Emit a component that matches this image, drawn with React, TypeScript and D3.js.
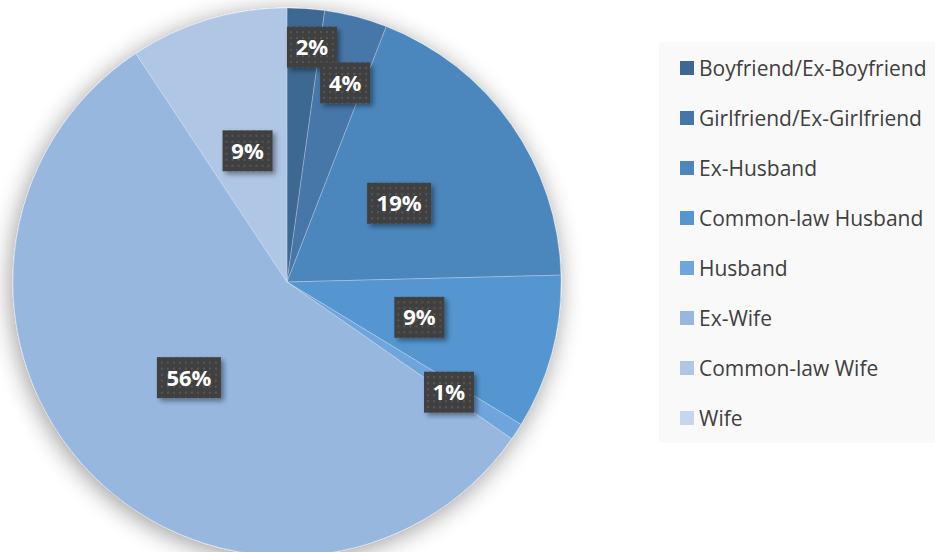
import React, { useEffect } from "react";
import * as d3 from "d3";

const categories = [
  "Boyfriend/Ex-Boyfriend",
  "Girlfriend/Ex-Girlfriend",
  "Ex-Husband",
  "Common-law Husband",
  "Husband",
  "Ex-Wife",
  "Common-law Wife",
  "Wife",
];
const values = [2.2, 3.7, 18.7, 9.1, 1.0, 56.0, 9.3, 0];
const labels = ["2%", "4%", "19%", "9%", "1%", "56%", "9%", ""];
const colors = [
  "#3e6792",
  "#4676a8",
  "#4c86bd",
  "#5596d1",
  "#6ea5dc",
  "#97b7df",
  "#afc6e5",
  "#c6d6ee",
];
// label placement (best-fit): radius as fraction of pie radius, angular nudge in degrees
const labelRadiusFactor = [0.862, 0.757, 0.5, 0.5, 0.715, 0.5, 0.5, 0.5];
const labelAngleNudge = [2.1, 1.7, 0, 0, 1.1, 0, 0, 0];

const W = 935;
const H = 552;
const cx = 287;
const cy = 282;
const R = 274;

export default function App() {
  useEffect(() => {
    document.body.style.margin = "0";
  }, []);

  const pie = d3
    .pie<number>()
    .sort(null)
    .value((d) => d)
    .startAngle(0)
    .endAngle(2 * Math.PI);
  const arcs = pie(values);
  const arc = d3.arc<d3.PieArcDatum<number>>().innerRadius(0).outerRadius(R);

  const legendY = d3
    .scalePoint<string>()
    .domain(categories)
    .range([68, 418]);

  return (
    <svg width={W} height={H} style={{ display: "block", fontFamily: "'Open Sans', sans-serif" }}>
      <defs>
        <filter id="pieShadow" x="-20%" y="-20%" width="140%" height="140%">
          <feGaussianBlur in="SourceAlpha" stdDeviation="12" />
          <feOffset dx="-2" dy="4" result="b" />
          <feComponentTransfer>
            <feFuncA type="linear" slope="0.4" />
          </feComponentTransfer>
          <feMerge>
            <feMergeNode />
            <feMergeNode in="SourceGraphic" />
          </feMerge>
        </filter>
        <filter id="boxShadow" x="-30%" y="-30%" width="170%" height="170%">
          <feDropShadow dx="3" dy="3" stdDeviation="2.5" floodColor="#000" floodOpacity="0.4" />
        </filter>
        <pattern id="dots" width="6" height="6" patternUnits="userSpaceOnUse">
          <rect width="6" height="6" fill="#404040" />
          <rect x="2" y="2" width="2" height="2" fill="#575757" />
        </pattern>
      </defs>
      <rect width={W} height={H} fill="#ffffff" />
      <g transform={`translate(${cx},${cy})`}>
        <g filter="url(#pieShadow)">
          {arcs.map((a, i) =>
            a.value > 0 ? (
              <path key={i} d={arc(a) || ""} fill={colors[i]} stroke="#ffffff" strokeOpacity={0.25} strokeWidth={1} />
            ) : null
          )}
        </g>
        {arcs.map((a, i) => {
          if (!labels[i]) return null;
          const mid = (a.startAngle + a.endAngle) / 2 + (labelAngleNudge[i] * Math.PI) / 180;
          const r = R * labelRadiusFactor[i];
          const x = Math.sin(mid) * r;
          const y = -Math.cos(mid) * r;
          const bw = 22 + 14 * labels[i].length;
          const bh = 41;
          return (
            <g key={i} transform={`translate(${x},${y})`}>
              <rect x={-bw / 2} y={-bh / 2} width={bw} height={bh} fill="url(#dots)" filter="url(#boxShadow)" />
              <text
                textAnchor="middle"
                dy="0.36em"
                fill="#ffffff"
                fontWeight="bold"
                fontSize={22}
                fontFamily="'Open Sans', sans-serif"
              >
                {labels[i]}
              </text>
            </g>
          );
        })}
      </g>
      <rect x={659} y={42} width={W - 659} height={401} fill="#f9f9f9" />
      {categories.map((c, i) => {
        const y = legendY(c) as number;
        return (
          <g key={c}>
            <rect x={680} y={y - 7} width={14} height={14} fill={colors[i]} />
            <text x={699} y={y} dy="0.36em" fontSize={21} fill="#404040" fontFamily="'Open Sans', sans-serif">
              {c}
            </text>
          </g>
        );
      })}
    </svg>
  );
}
